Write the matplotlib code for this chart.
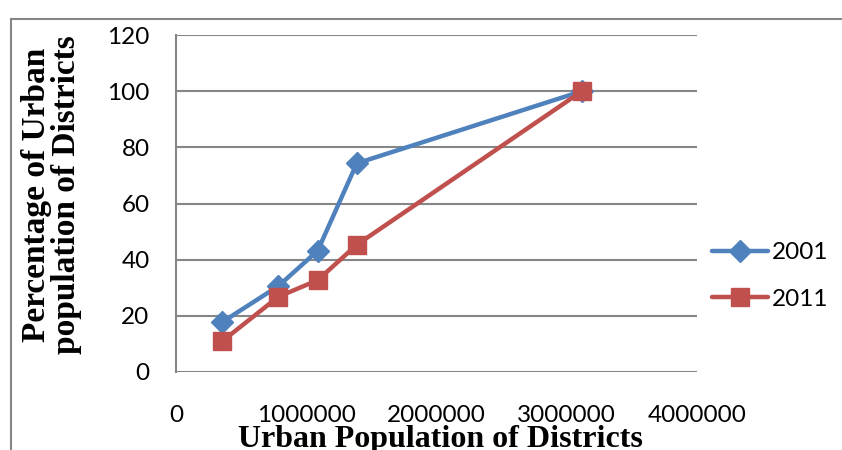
import matplotlib.pyplot as plt
from matplotlib.lines import Line2D

# 数据
urban_pop = [356000, 786000, 1088000, 1388000, 3117000]
pct_2001 = [17.8, 30.6, 43.2, 74.3, 100]
pct_2011 = [11.0, 26.8, 32.7, 45.3, 100]
x_ticks = [0, 1000000, 2000000, 3000000, 4000000]
y_ticks = [0, 20, 40, 60, 80, 100, 120]

BLUE = '#4F81BD'
RED = '#C0504D'
GRID = '#868686'
TICK_FONT = ['Lato', 'DejaVu Sans']
LABEL_FONT = ['Liberation Serif', 'DejaVu Serif']

fig = plt.figure(figsize=(8.42, 4.5), dpi=100)
ax = fig.add_axes([176 / 842, 1 - 372 / 450, (697 - 176) / 842, (372 - 35) / 450])

ax.plot(urban_pop, pct_2001, color=BLUE, lw=3.2, marker='D', ms=11,
        solid_capstyle='round', label='2001', zorder=3)
ax.plot(urban_pop, pct_2011, color=RED, lw=3.2, marker='s', ms=13.5,
        solid_capstyle='round', label='2011', zorder=3)

ax.set_xlim(0, 4000000)
ax.set_ylim(0, 120)
ax.set_xticks(x_ticks)
ax.set_yticks(y_ticks)
ax.set_xticklabels([str(v) for v in x_ticks], family=TICK_FONT, fontsize=17.5)
ax.set_yticklabels([str(v) for v in y_ticks], family=TICK_FONT, fontsize=17.5)
ax.tick_params(axis='both', length=0)
ax.tick_params(axis='x', pad=24)
ax.tick_params(axis='y', pad=19)

ax.grid(axis='y', color=GRID, lw=1.5)
for s in ['top', 'right', 'bottom']:
    ax.spines[s].set_visible(False)
ax.spines['left'].set_color(GRID)
ax.spines['left'].set_linewidth(1.5)
ax.set_axisbelow(True)

leg = ax.legend(loc='center left', bbox_to_anchor=(712 / 842, 1 - 276 / 450),
                bbox_transform=fig.transFigure, frameon=False, borderpad=0,
                borderaxespad=0, handlelength=2.3, handletextpad=0.15,
                labelspacing=1.05, prop={'family': TICK_FONT, 'size': 17.5})

# 坐标轴标题
fig.text(51.5 / 842, 1 - 195 / 450, 'Percentage of Urban\npopulation of Districts',
         rotation=90, ha='center', va='center', family=LABEL_FONT,
         fontweight='bold', fontsize=24, linespacing=0.95)
fig.text(440 / 842, 1 - 447 / 450, 'Urban Population of Districts',
         ha='center', va='baseline', family=LABEL_FONT,
         fontweight='bold', fontsize=23)

# 外框
fig.add_artist(Line2D([11 / 842, 1], [1 - 19 / 450, 1 - 19 / 450],
                      transform=fig.transFigure, color=GRID, lw=1.5))
fig.add_artist(Line2D([11 / 842, 11 / 842], [0, 1 - 19 / 450],
                      transform=fig.transFigure, color=GRID, lw=1.5))

fig.savefig('out.png', dpi=100)
